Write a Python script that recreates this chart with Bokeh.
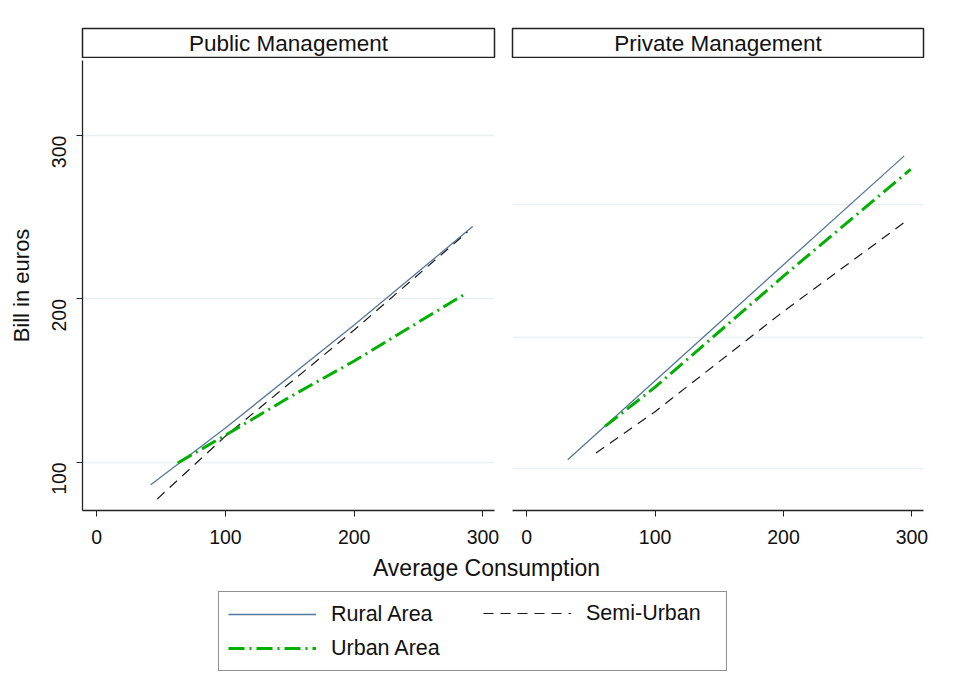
import math
from bokeh.plotting import figure
from bokeh.layouts import column, row
from bokeh.models import (Range1d, Label, Legend, LegendItem, Grid, FixedTicker)
from bokeh.embed import file_html
from bokeh.resources import INLINE

# ---------------- data ----------------
panels = ["Public Management", "Private Management"]
series = ["Rural Area", "Semi-Urban", "Urban Area"]

pub_rural_x = [42, 100, 200, 292]
pub_rural_y = [86.2, 121, 184, 244.3]
pub_semi_x = [47, 100, 200, 288]
pub_semi_y = [77.5, 116, 181, 241]
pub_urban_x = [63, 100, 150, 200, 286]
pub_urban_y = [99.6, 116.6, 140, 162, 203]

priv_rural_x = [32, 100, 200, 294]
priv_rural_y = [101.6, 150, 221, 287.6]
priv_semi_x = [54, 100, 200, 295]
priv_semi_y = [105.7, 131, 192.4, 247.4]
priv_urban_x = [61, 100, 200, 299]
priv_urban_y = [122, 146, 214, 279.4]

x_ticks = [0, 100, 200, 300]
y_ticks_left = [100, 200, 300]
y_grid_right = [96, 176.5, 258]

x_title = "Average Consumption"
y_title = "Bill in euros"

# ---------------- styles ----------------
FONT = "Liberation Sans"
styles = {
    "Rural Area": dict(line_color="#56779c", line_width=1.3),
    "Semi-Urban": dict(line_color="#1a1a1a", line_width=1.2, line_dash="10 7"),
    "Urban Area": dict(line_color="#00b000", line_width=3, line_dash="16 5 2 5"),
}
GRID = "#e9f0f2"
INK = "#111111"

X_RANGE = (-11, 309)
Y_RANGE = (70.5, 346)


def strip(title, left, right, width):
    s = figure(width=width, height=58, x_range=Range1d(0, 1), y_range=Range1d(0, 1),
               min_border_left=left, min_border_right=right, min_border_top=28,
               min_border_bottom=0, toolbar_location=None, output_backend="svg",
               x_axis_location=None, y_axis_location=None)
    s.grid.visible = False
    s.outline_line_color = "#222222"
    s.outline_line_width = 1.5
    s.add_layout(Label(x=0.5, y=0.5, text=title, text_align="center",
                       text_baseline="middle", text_font=FONT,
                       text_font_size="22.5px", text_color=INK))
    return s


def style_axis(ax):
    ax.axis_line_color = "#222222"
    ax.axis_line_width = 1.3
    ax.major_tick_line_color = "#222222"
    ax.major_tick_out = 6
    ax.major_tick_in = 0
    ax.minor_tick_line_color = None
    ax.major_label_text_font = FONT
    ax.major_label_text_font_size = "19.5px"
    ax.major_label_text_color = INK


def panel(xs_ys, left, right, width, with_y):
    p = figure(width=width, height=491, x_range=Range1d(*X_RANGE), y_range=Range1d(*Y_RANGE),
               min_border_left=left, min_border_right=right, min_border_top=2,
               min_border_bottom=39, toolbar_location=None, output_backend="svg",
               y_axis_location="left" if with_y else None)
    p.outline_line_color = None
    p.xgrid.visible = False
    ax = p.xaxis[0]
    ax.ticker = FixedTicker(ticks=x_ticks)
    style_axis(ax)
    ax.major_label_standoff = 13
    if with_y:
        ay = p.yaxis[0]
        ay.ticker = FixedTicker(ticks=y_ticks_left)
        style_axis(ay)
        ay.major_label_orientation = math.pi / 2
        ay.major_label_standoff = 17
        ay.axis_label = y_title
        ay.axis_label_text_font = FONT
        ay.axis_label_text_font_size = "22px"
        ay.axis_label_text_font_style = "normal"
        ay.axis_label_text_color = INK
        ay.axis_label_standoff = 9
        p.ygrid.grid_line_color = GRID
        p.ygrid.grid_line_width = 1.3
    else:
        for g in p.ygrid:
            g.visible = False
        p.add_layout(Grid(dimension=1, ticker=FixedTicker(ticks=y_grid_right),
                          grid_line_color=GRID, grid_line_width=1.3))
    for name, (xs, ys) in zip(series, xs_ys):
        p.line(xs, ys, **styles[name])
    return p


s1 = strip(panels[0], 82, 9, 503)
s2 = strip(panels[1], 9, 20, 440)
p1 = panel([(pub_rural_x, pub_rural_y), (pub_semi_x, pub_semi_y), (pub_urban_x, pub_urban_y)],
           82, 9, 503, True)
p2 = panel([(priv_rural_x, priv_rural_y), (priv_semi_x, priv_semi_y), (priv_urban_x, priv_urban_y)],
           9, 20, 440, False)

# bottom area: x-axis title + legend
b = figure(width=943, height=140, x_range=Range1d(0, 1), y_range=Range1d(0, 1),
           min_border=0, toolbar_location=None, output_backend="svg",
           x_axis_location=None, y_axis_location=None)
b.grid.visible = False
b.outline_line_color = None
b.add_layout(Label(x=486, y=122, x_units="screen", y_units="screen", text=x_title,
                   text_align="center", text_baseline="middle", text_font=FONT,
                   text_font_size="23px", text_color=INK))

# legend key renderers (kept outside the visible range of this strip)
key = {}
for name in series:
    key[name] = b.line([-5, -4], [-5, -5], **styles[name])

common = dict(label_text_font=FONT, label_text_font_size="21.5px", label_text_color=INK,
              glyph_width=88, glyph_height=26, label_height=26, label_standoff=15,
              spacing=8, padding=9, margin=0, orientation="vertical")
leg1 = Legend(items=[LegendItem(label=series[0], renderers=[key[series[0]]]),
                     LegendItem(label=series[2], renderers=[key[series[2]]])],
              location=(218, 18), border_line_color="#222222", border_line_width=1.5,
              background_fill_color="white", background_fill_alpha=1.0,
              label_width=386, **common)
leg2 = Legend(items=[LegendItem(label=series[1], renderers=[key[series[1]]])],
              location=(483, 63), border_line_color=None, background_fill_alpha=0.0,
              label_width=100, **common)
b.add_layout(leg1)
b.add_layout(leg2)

layout = column(row(column(s1, p1), column(s2, p2)), b)
open("out.html", "w").write(file_html(layout, INLINE))
